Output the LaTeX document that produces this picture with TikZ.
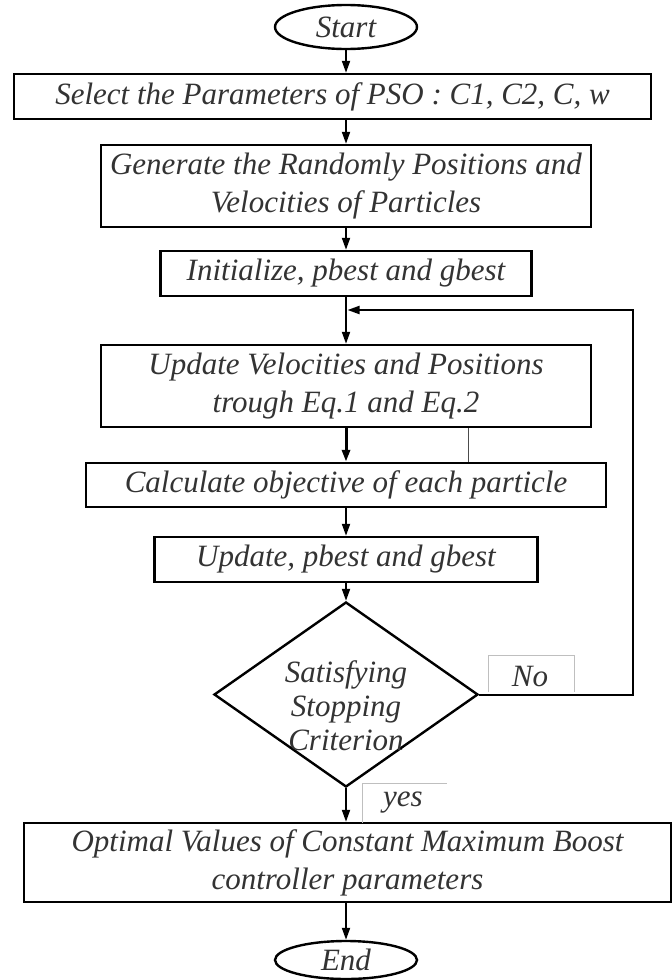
\documentclass[tikz,border=0pt]{standalone}
\usepackage{fontspec}
\setmainfont{Liberation Serif}
\usetikzlibrary{shapes.geometric,arrows.meta}
\begin{document}
\begin{tikzpicture}[x=1pt,y=-1pt,
  txt/.style={font=\fontsize{31}{38}\selectfont\itshape, text=black!80},
  box/.style={txt, draw, line width=2.4pt, rectangle, inner sep=0pt, align=center},
  term/.style={txt, draw, line width=2.4pt, ellipse, inner sep=0pt},
  arr/.style={line width=2pt, -{Triangle[length=12pt,width=8pt]}},
  faint/.style={draw=black!25, line width=0.8pt}
]
\useasboundingbox (0,0) rectangle (672,980);
\node[term, minimum width=142pt, minimum height=44pt] (start) at (346,27) {Start};
\node[box, minimum width=637pt, minimum height=45pt] (b1) at (332.5,96.5) {Select the Parameters of PSO : C1, C2, C, w};
\node[box, minimum width=490pt, minimum height=82pt] (b2) at (346,186) {Generate the Randomly Positions and\\Velocities of Particles};
\node[box, minimum width=371pt, minimum height=45pt] (b3) at (346,273.5) {Initialize, pbest and gbest};
\node[box, minimum width=490pt, minimum height=82pt] (b4) at (346,386) {Update Velocities and Positions\\trough Eq.1 and Eq.2};
\node[box, minimum width=520pt, minimum height=44pt] (b5) at (346,485) {Calculate objective of each particle};
\node[box, minimum width=383pt, minimum height=45pt] (b6) at (346,559.5) {Update, pbest and gbest};
\node[draw, diamond, line width=2.4pt, inner sep=0pt, minimum width=264pt, minimum height=185pt] (dec) at (346,694.5) {};
\node[txt, align=center, font=\fontsize{31}{34}\selectfont\itshape] (dect) at (346,706) {Satisfying\\Stopping\\Criterion};
\node[box, minimum width=647pt, minimum height=79pt] (b7) at (347.5,862.5) {Optimal Values of Constant Maximum Boost\\controller parameters};
\node[term, minimum width=142pt, minimum height=38pt] (end) at (346,960) {End};

\coordinate (fb) at (347.5,310);
\coordinate (fr) at (633,310);
\coordinate (thin) at (468,0);

\draw[arr] (start.south) -- (start.south |- b1.north);
\draw[arr] (b1.south -| b2.north) -- (b2.north);
\draw[arr] (b2) -- (b3);
\draw[arr] (b3) -- (b4);
\draw[arr, line width=3pt] (b4) -- (b5);
\draw[line width=0.9pt, black!70] (b4.south -| thin) -- (b5.north -| thin);
\draw[arr] (b5) -- (b6);
\draw[arr] (b6.south) -- (dec.north);
\draw[arr] (dec.south) -- (b7.north -| dec.south);
\draw[arr] (b7.south -| end.north) -- (end.north);
\draw[arr] (dec.east) -| (fr) -- (fb);

\node[txt] (nolbl) at (530,676) {No};
\draw[faint] (488,692) -- (488,655) -- (574,655) -- (574,692);
\node[txt] (yeslbl) at (403,803) {yes};
\draw[faint] (362,823) -- (362,783) -- (447,783);
\end{tikzpicture}
\end{document}
